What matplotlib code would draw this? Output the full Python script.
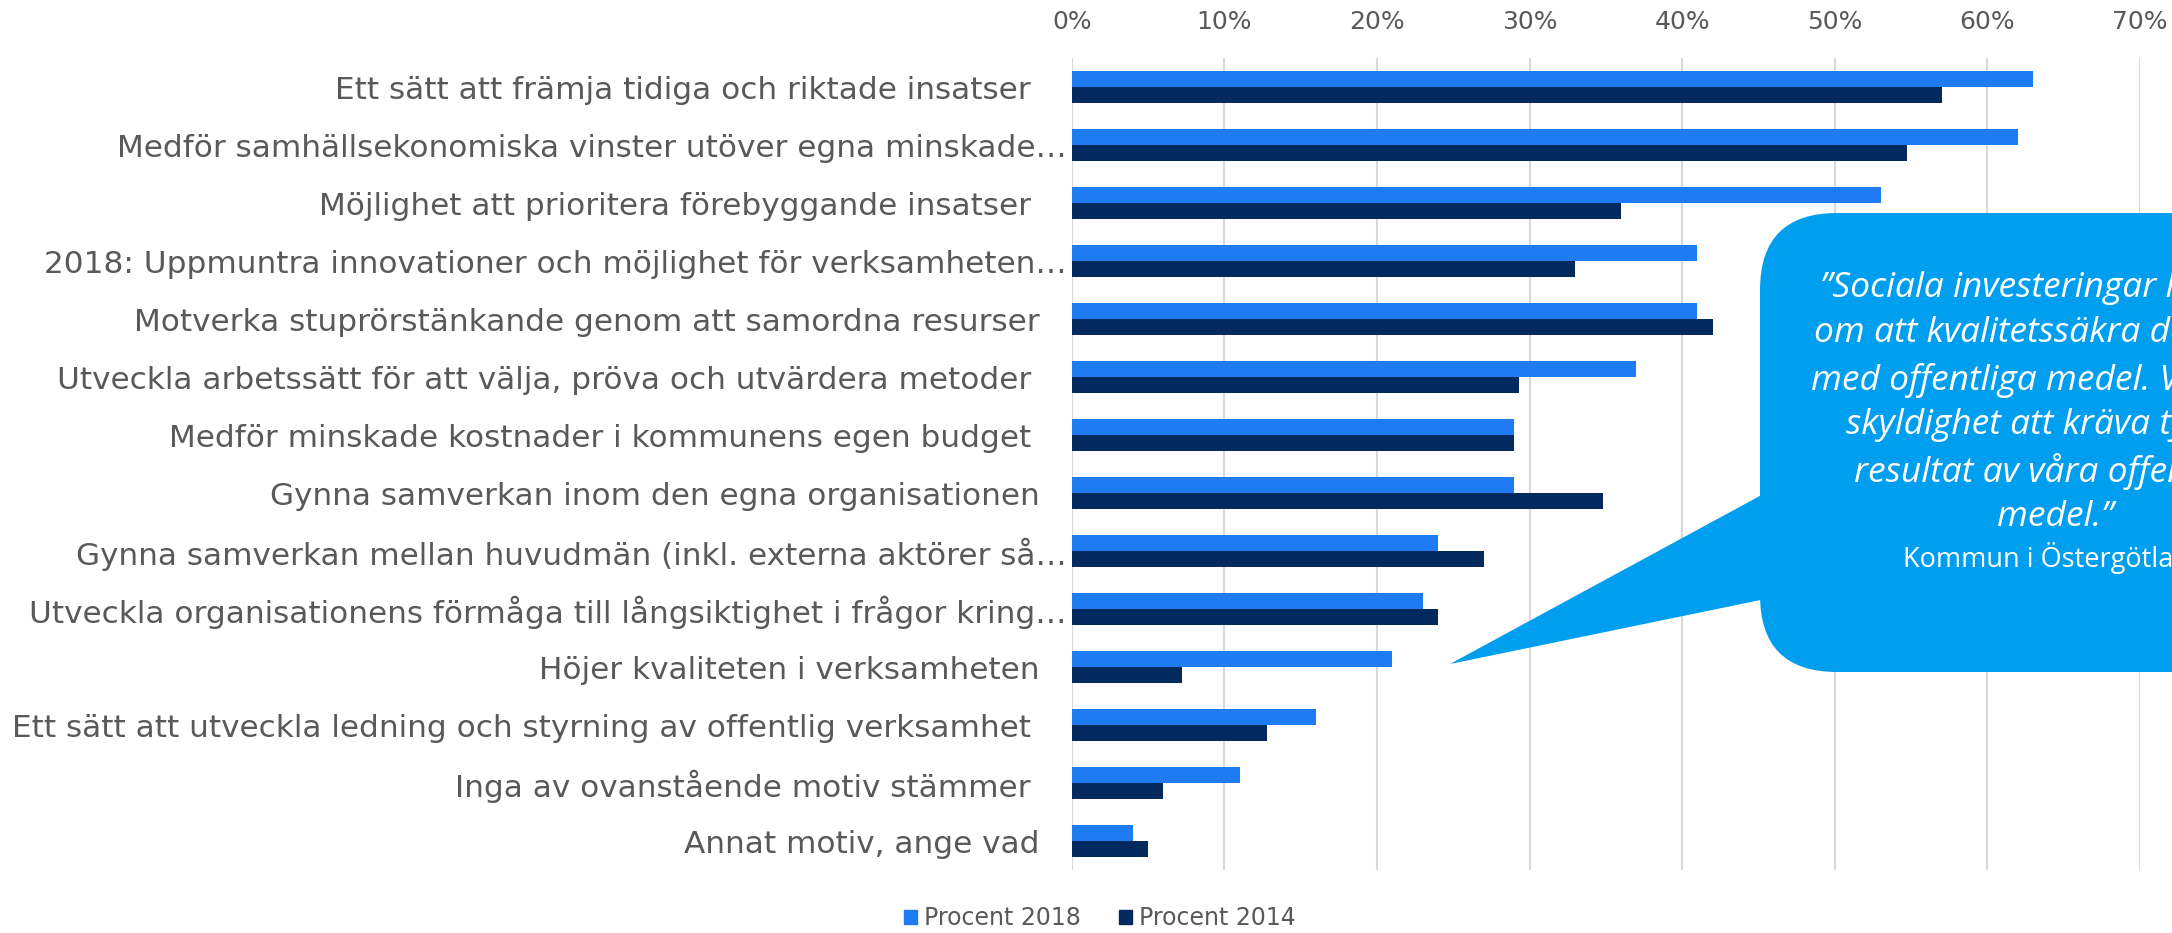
import matplotlib
matplotlib.use("Agg")
import numpy as np
import matplotlib.pyplot as plt
from matplotlib.patches import FancyBboxPatch, Polygon, Patch

categories = [
    "Ett sätt att främja tidiga och riktade insatser",
    "Medför samhällsekonomiska vinster utöver egna minskade…",
    "Möjlighet att prioritera förebyggande insatser",
    "2018: Uppmuntra innovationer och möjlighet för verksamheten…",
    "Motverka stuprörstänkande genom att samordna resurser",
    "Utveckla arbetssätt för att välja, pröva och utvärdera metoder",
    "Medför minskade kostnader i kommunens egen budget",
    "Gynna samverkan inom den egna organisationen",
    "Gynna samverkan mellan huvudmän (inkl. externa aktörer så…",
    "Utveckla organisationens förmåga till långsiktighet i frågor kring…",
    "Höjer kvaliteten i verksamheten",
    "Ett sätt att utveckla ledning och styrning av offentlig verksamhet",
    "Inga av ovanstående motiv stämmer",
    "Annat motiv, ange vad",
]
procent_2018 = [63, 62, 53, 41, 41, 37, 29, 29, 24, 23, 21, 16, 11, 4]
procent_2014 = [57, 54.7, 36, 33, 42, 29.3, 29, 34.8, 27, 24, 7.2, 12.8, 6, 5]
x_ticks = [0, 10, 20, 30, 40, 50, 60, 70]
legend_labels = ["Procent 2018", "Procent 2014"]

quote_lines = [
    "”Sociala investeringar handlar",
    "om att kvalitetssäkra det vi gör",
    "med offentliga medel. Vi har en",
    "skyldighet att kräva tydliga",
    "resultat av våra offentliga",
    "medel.”",
]
quote_source = "Kommun i Östergötland"

# label gaps to the axis (points); labels ending in "…" sit closer
label_pads = [29.5, 3.6, 29.5, 3.6, 23, 29.5, 29.5, 23, 3.6, 3.6, 23, 29.5, 30, 23]

c2018 = "#1E7BF2"
c2014 = "#03295F"
bubble = "#009EEE"
grey = "#595959"

W, H = 2172, 933
fig = plt.figure(figsize=(W / 100, H / 100), dpi=100)
ax = fig.add_axes([1071.8 / W, 1 - 870 / H, (2140 - 1071.8) / W, (870 - 58) / H])

y = np.arange(len(categories))
bh = 0.27
ax.barh(y - bh / 2, procent_2018, height=bh, color=c2018, zorder=3)
ax.barh(y + bh / 2, procent_2014, height=bh, color=c2014, zorder=3)

ax.set_xlim(0, 70)
ax.set_ylim(len(categories) - 0.5, -0.5)
ax.set_xticks(x_ticks)
ax.set_xticklabels([f"{v}%" for v in x_ticks], fontsize=18, color=grey)
ax.xaxis.tick_top()
ax.tick_params(axis="x", length=0, pad=17)
ax.set_yticks(y)
ax.set_yticklabels(categories, fontsize=22.4, color=grey)
ax.tick_params(axis="y", length=0)
for tick, p in zip(ax.yaxis.get_major_ticks(), label_pads):
    tick.set_pad(p)
ax.grid(axis="x", color="#D9D9D9", linewidth=1.5, zorder=0)
for s in ax.spines.values():
    s.set_visible(False)

# speech bubble (inches, so the corners stay round)
tr = fig.dpi_scale_trans
box = FancyBboxPatch((17.60, 2.61), 6.0, 4.59,
                     boxstyle="round,pad=0,rounding_size=0.77",
                     transform=tr, facecolor=bubble, edgecolor="none", zorder=5)
tail = Polygon([(14.50, 2.69), (17.80, 4.48), (17.80, 3.37)], closed=True,
               transform=tr, facecolor=bubble, edgecolor="none", zorder=5)
fig.add_artist(box)
fig.add_artist(tail)

line_y = [288, 333, 380, 425, 472, 517]
for txt, yy in zip(quote_lines, line_y):
    fig.text(20.55, (H - yy) / 100, txt, transform=tr, ha="center", va="center",
             fontsize=25.5, style="italic", family="Open Sans", color="white", zorder=6)
fig.text(20.55, (H - 558) / 100, quote_source, transform=tr, ha="center", va="center",
         fontsize=19.5, family="Open Sans", color="white", zorder=6)

handles = [Patch(color=c2018), Patch(color=c2014)]
fig.legend(handles, legend_labels, loc="center", bbox_to_anchor=(1100 / W, 1 - 918 / H),
           ncol=2, frameon=False, fontsize=17, labelcolor=grey,
           handlelength=0.55, handleheight=0.55, handletextpad=0.3, columnspacing=1.6)

fig.savefig("out.png", dpi=100, facecolor="white")
